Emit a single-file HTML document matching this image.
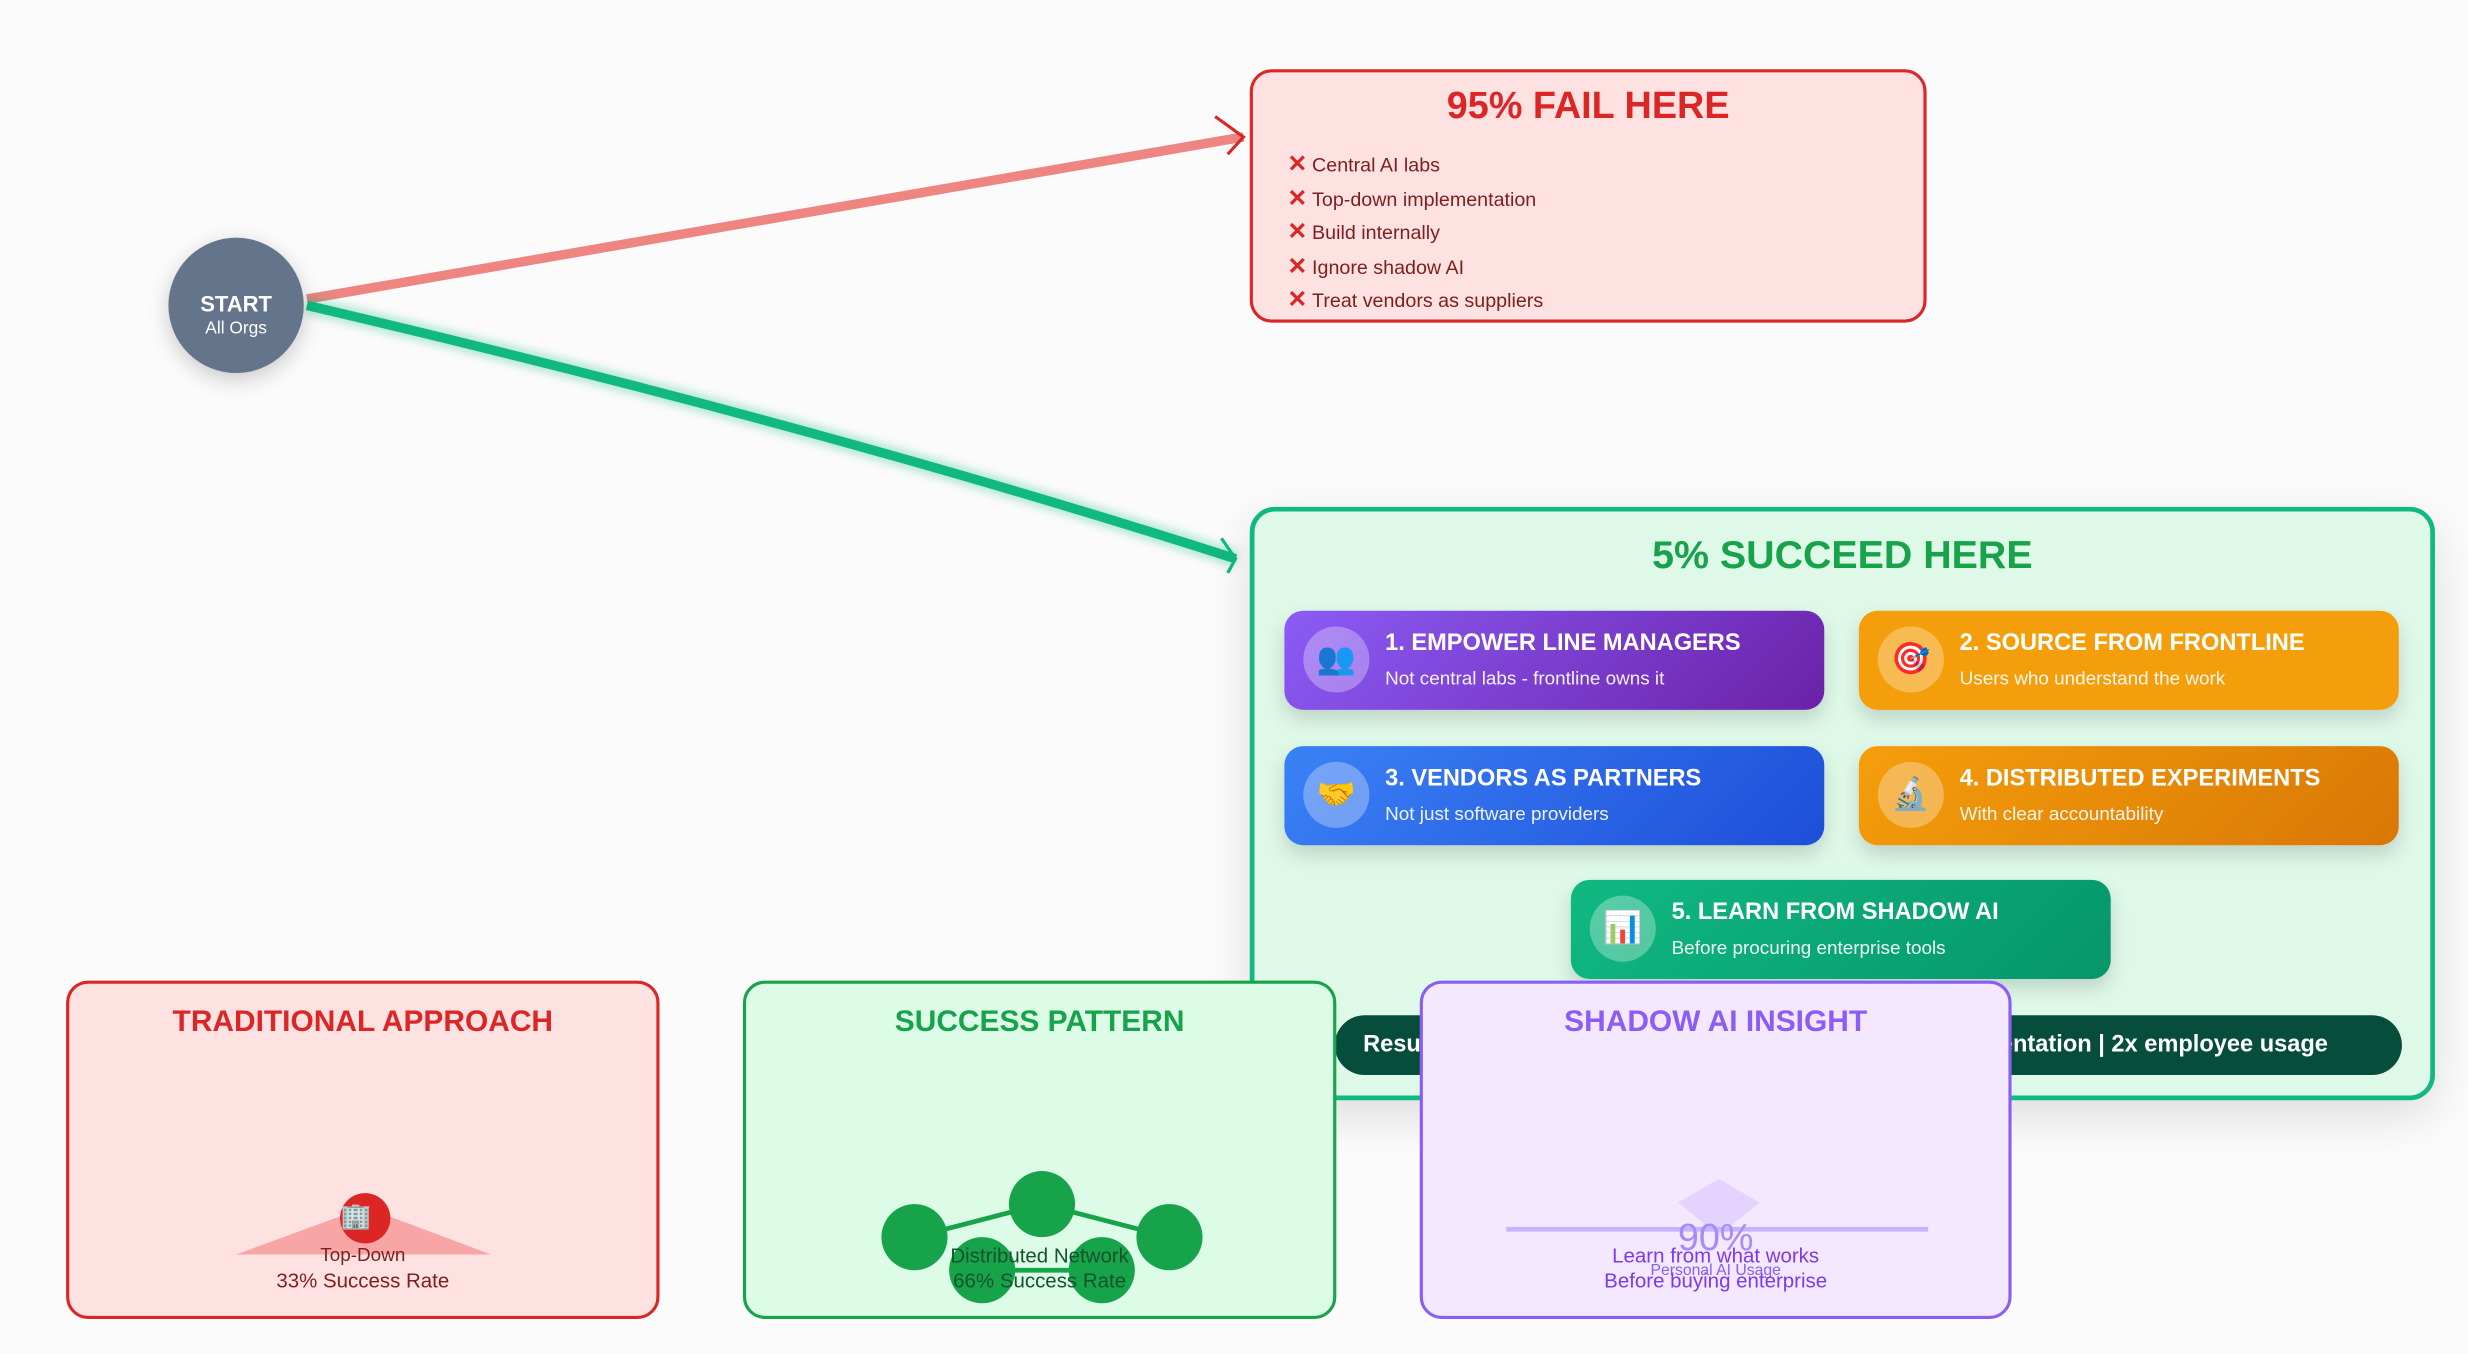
<!DOCTYPE html>
<html><head><meta charset="utf-8"><style>
html,body{margin:0;padding:0;width:2468px;height:1354px;overflow:hidden;background:#fbfbfb;font-family:"Liberation Sans","Noto Sans CJK SC",sans-serif}
#w{position:absolute;left:0;top:0;width:1568px;height:860px;transform:scale(1.574);transform-origin:0 0}
.abs{position:absolute}
.box{position:absolute;box-sizing:border-box;border-radius:14px}
.t{position:absolute;left:0;right:0;text-align:center;font-weight:bold}
.n{font-weight:normal}
.card{position:absolute;width:343px;height:63px;border-radius:12px;box-shadow:0 6px 12px rgba(0,0,0,.15);color:#fff}
.card .ic{position:absolute;left:12px;top:10px;width:42px;height:42px;border-radius:50%;background:rgba(255,255,255,.3);text-align:center;line-height:42px;font-size:20px}
.card .h{position:absolute;left:64px;top:12px;font-size:15px;font-weight:bold;white-space:nowrap}
.card .s{position:absolute;left:64px;top:36px;font-size:12px;opacity:.92;white-space:nowrap}
.fi{position:absolute;left:22px;font-size:12.5px;color:#7f1d1d;white-space:nowrap}
.fi b{color:#dc2626;font-size:15px;margin-right:3px}
</style></head><body><div id="w">
<svg class="abs" style="left:0;top:0" width="1568" height="860">
<defs><filter id="g" x="-20%" y="-20%" width="140%" height="140%"><feGaussianBlur stdDeviation="3"/></filter></defs>
<line x1="195" y1="190" x2="790" y2="87" stroke="#ef8580" stroke-width="6"/>
<path d="M772 74 L790 87 L780 98" fill="none" stroke="#dc2626" stroke-width="2"/>
<path d="M195 194 Q520 270 785 355" fill="none" stroke="#10b981" stroke-width="10" opacity=".35" filter="url(#g)"/>
<path d="M195 194 Q520 270 785 355" fill="none" stroke="#10b981" stroke-width="6"/>
<path d="M776 342 L785 355 L780 364" fill="none" stroke="#10b981" stroke-width="2"/>
</svg>
<div class="abs" style="left:107px;top:151px;width:86px;height:86px;border-radius:50%;background:#64748b;box-shadow:0 4px 14px rgba(0,0,0,.2);color:#fff;text-align:center">
<div style="margin-top:34px;font-size:14px;font-weight:bold">START</div><div style="font-size:11px;margin-top:2px">All Orgs</div></div>

<div class="box" style="left:794px;top:44px;width:430px;height:161px;background:#fee2e2;border:2px solid #dc2626">
<div class="t" style="top:8px;font-size:24px;color:#dc2626">95% FAIL HERE</div>
<div class="fi" style="top:49px"><b>✕</b>Central AI labs</div>
<div class="fi" style="top:71px"><b>✕</b>Top-down implementation</div>
<div class="fi" style="top:92px"><b>✕</b>Build internally</div>
<div class="fi" style="top:114px"><b>✕</b>Ignore shadow AI</div>
<div class="fi" style="top:135px"><b>✕</b>Treat vendors as suppliers</div>
</div>

<div class="box" style="left:794px;top:322px;width:753px;height:377px;background:#dff9e9;border:3px solid #10b981;border-radius:16px;box-shadow:0 10px 30px rgba(0,0,0,.12)">
<div class="t" style="top:14px;font-size:25px;color:#16a34a">5% SUCCEED HERE</div>
<div class="abs" style="left:51px;top:320px;width:678px;height:38px;border-radius:19px;background:#064e3b;color:#fff;font-weight:bold;font-size:15px;overflow:hidden">
<span class="abs" style="left:18px;top:10px;white-space:nowrap">Results: 2x success rate</span>
<span class="abs" style="right:47px;top:10px;white-space:nowrap">Faster implementation | 2x employee usage</span></div>
</div>
<div class="card" style="left:816px;top:388px;background:linear-gradient(135deg,#8b5cf6,#6b21a8)"><div class="ic">👥</div><div class="h">1. EMPOWER LINE MANAGERS</div><div class="s">Not central labs - frontline owns it</div></div>
<div class="card" style="left:1181px;top:388px;background:#f59e0b"><div class="ic">🎯</div><div class="h">2. SOURCE FROM FRONTLINE</div><div class="s">Users who understand the work</div></div>
<div class="card" style="left:816px;top:474px;background:linear-gradient(135deg,#3b82f6,#1d4ed8)"><div class="ic">🤝</div><div class="h">3. VENDORS AS PARTNERS</div><div class="s">Not just software providers</div></div>
<div class="card" style="left:1181px;top:474px;background:linear-gradient(135deg,#f59e0b,#d97706)"><div class="ic">🔬</div><div class="h">4. DISTRIBUTED EXPERIMENTS</div><div class="s">With clear accountability</div></div>
<div class="card" style="left:998px;top:559px;background:linear-gradient(135deg,#10b981,#059669)"><div class="ic">📊</div><div class="h">5. LEARN FROM SHADOW AI</div><div class="s">Before procuring enterprise tools</div></div>

<div class="box" style="left:42px;top:623px;width:377px;height:215px;background:#fee2e2;border:2px solid #dc2626">
<div class="t" style="top:14px;font-size:19px;color:#dc2626">TRADITIONAL APPROACH</div>
<svg class="abs" style="left:0;top:0" width="377" height="215"><polygon points="106,172 268,172 188,142" fill="#f8a5a5"/><circle cx="188" cy="149" r="16" fill="#dc2626"/></svg>
<div class="abs" style="left:172px;top:138px;font-size:16px">🏢</div>
<div class="t n" style="top:165px;font-size:12px;color:#7f1d1d">Top-Down</div>
<div class="t n" style="top:181px;font-size:13px;color:#7f1d1d">33% Success Rate</div>
</div>

<div class="box" style="left:472px;top:623px;width:377px;height:215px;background:#dcfce7;border:2px solid #16a34a">
<div class="t" style="top:14px;font-size:19px;color:#16a34a">SUCCESS PATTERN</div>
<svg class="abs" style="left:0;top:0" width="377" height="215"><g stroke="#16a34a" stroke-width="3"><line x1="107" y1="161" x2="188" y2="140"/><line x1="188" y1="140" x2="269" y2="161"/><line x1="150" y1="182" x2="226" y2="182"/></g><g fill="#16a34a"><circle cx="107" cy="161" r="21"/><circle cx="188" cy="140" r="21"/><circle cx="269" cy="161" r="21"/><circle cx="150" cy="182" r="21"/><circle cx="226" cy="182" r="21"/></g></svg>
<div class="t n" style="top:165px;font-size:13px;color:#14532d">Distributed Network</div>
<div class="t n" style="top:181px;font-size:13px;color:#14532d">66% Success Rate</div>
</div>

<div class="box" style="left:902px;top:623px;width:376px;height:215px;background:#f3e8ff;border:2px solid #8b5cf6">
<div class="t" style="top:14px;font-size:19px;color:#8b5cf6">SHADOW AI INSIGHT</div>
<svg class="abs" style="left:0;top:0" width="376" height="215"><polygon points="188,124 214,139 188,160 162,139" fill="#e4d4fd"/><line x1="53" y1="156" x2="321" y2="156" stroke="#c4b5fd" stroke-width="3"/></svg>
<div class="t n" style="top:148px;font-size:24px;color:#a78bfa">90%</div>
<div class="t n" style="top:165px;font-size:13px;color:#7c3aed">Learn from what works</div>
<div class="t n" style="top:177px;font-size:10px;color:#8b5cf6">Personal AI Usage</div>
<div class="t n" style="top:181px;font-size:13px;color:#7c3aed">Before buying enterprise</div>
</div>
</div></body></html>
